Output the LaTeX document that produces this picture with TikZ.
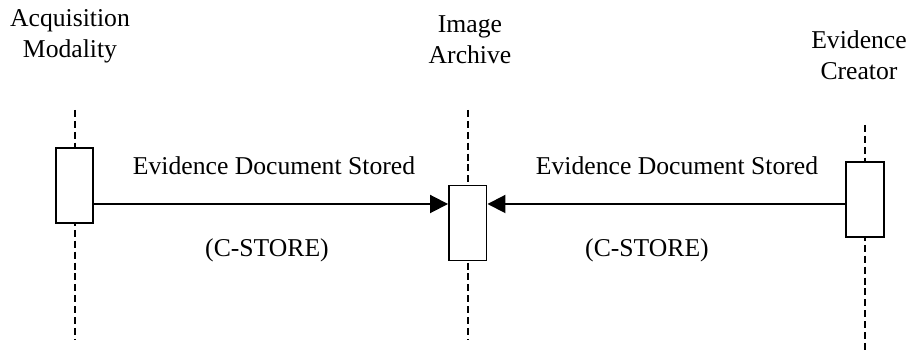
\documentclass[tikz,border=0pt]{standalone}
\usepackage{fontspec}
\setmainfont{Liberation Serif}
\usetikzlibrary{arrows.meta}

\begin{document}
\begin{tikzpicture}[
    lifeline/.style={line width=1.1pt, dash pattern=on 4pt off 2.2pt},
    actbox/.style={draw, fill=white, line width=1.1pt, minimum width=0.75cm, minimum height=1.5cm, inner sep=0pt},
    msg/.style={line width=1.1pt, -{Triangle[length=0.36cm, width=0.36cm]}},
    every node/.style={font=\fontsize{14.6}{17.6}\selectfont, align=center}
]
    \useasboundingbox (0,0) rectangle (18.16,7.02);
    % actors
    \node (mod)  at ( 1.40,6.30) {Acquisition\\Modality};
    \node (arch) at ( 9.40,6.22) {Image\\Archive};
    \node (crt)  at (17.18,5.92) {Evidence\\Creator};
    % lifelines
    \draw[lifeline] ( 1.494,4.82) -- ( 1.494,0.22);
    \draw[lifeline] ( 9.366,4.82) -- ( 9.366,0.22);
    \draw[lifeline] (17.30,4.52) -- (17.30,0.02);
    % activation boxes
    \node[actbox] (modbox)  at ( 1.49,3.31) {};
    \node[actbox] (archbox) at ( 9.355,2.56) {};
    \node[actbox] (crtbox)  at (17.30,3.03) {};
    % messages
    \coordinate (m) at (0,2.94);
    \draw[msg] (modbox.east |- m) -- (archbox.west |- m);
    \draw[msg] (crtbox.west |- m) -- (archbox.east |- m);
    \node (lbl1) at ( 5.48,3.70) {Evidence Document Stored};
    \node (cs1)  at ( 5.34,2.02) {(C-STORE)};
    \node (lbl2) at (13.54,3.70) {Evidence Document Stored};
    \node (cs2)  at (12.94,2.02) {(C-STORE)};
\end{tikzpicture}
\end{document}
